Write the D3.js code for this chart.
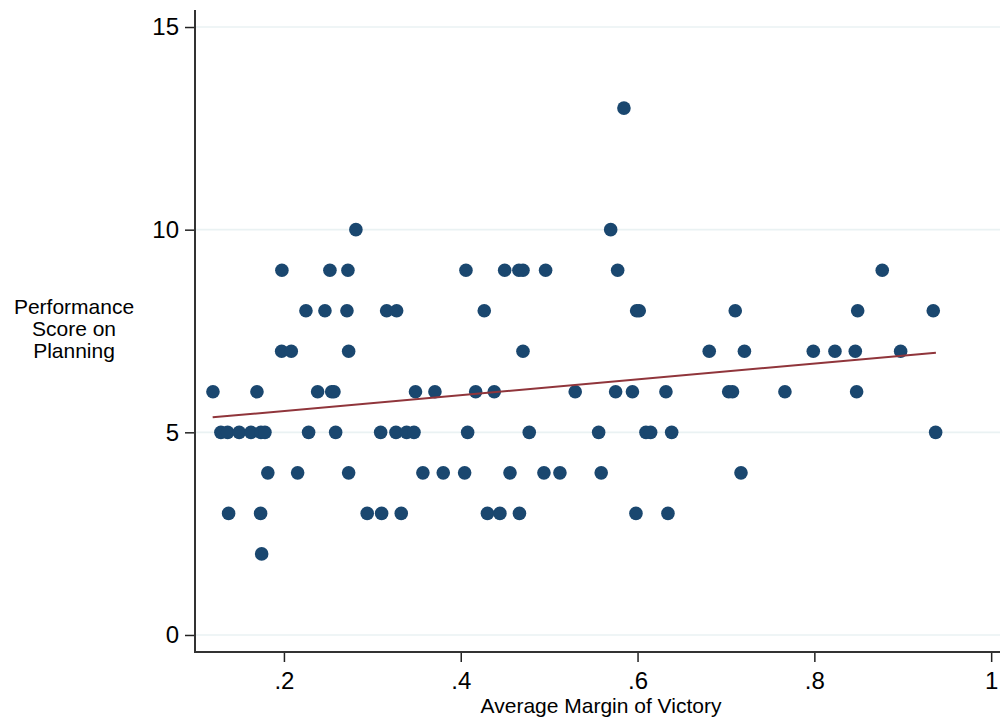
<!DOCTYPE html>
<html>
<head>
<meta charset="utf-8">
<script src="https://cdn.jsdelivr.net/npm/d3@7"></script>
<style>
  body { margin: 0; background: #fff; }
  svg { display: block; font-family: "Liberation Sans", Arial, Helvetica, sans-serif; }
</style>
</head>
<body>
<div id="chart"></div>
<script>
// Performance score vs average margin of victory (scatter + linear fit)

var width = 1000, height = 721;

// data, grouped by score
var score13 = [0.5846];
var score10 = [0.2814, 0.5696];
var score9 = [0.1977, 0.2520, 0.2724, 0.4059, 0.4497, 0.4658, 0.4704, 0.4960, 0.5775, 0.8768];
var score8 = [0.2249, 0.2464, 0.2713, 0.3162, 0.3275, 0.4266, 0.5990, 0.6019, 0.7105, 0.8490, 0.9345];
var score7 = [0.1974, 0.2083, 0.2732, 0.4704, 0.6811, 0.7209, 0.7988, 0.8233, 0.8463, 0.8976];
var score6 = [0.1197, 0.1695, 0.2381, 0.2540, 0.2566, 0.3488, 0.3708, 0.4169, 0.4379, 0.5295,
              0.5752, 0.5942, 0.6321, 0.7031, 0.7074, 0.7667, 0.8478];
var score5 = [0.1287, 0.1363, 0.1494, 0.1627, 0.1740, 0.1785, 0.2279, 0.2585, 0.3094, 0.3267,
              0.3388, 0.3471, 0.4078, 0.4775, 0.5560, 0.6095, 0.6148, 0.6386, 0.9372];
var score4 = [0.1818, 0.2155, 0.2732, 0.3572, 0.3802, 0.4044, 0.4557, 0.4941, 0.5122, 0.5589, 0.7170];
var score3 = [0.1374, 0.1736, 0.2942, 0.3105, 0.3327, 0.4302, 0.4443, 0.4664, 0.5982, 0.6344];
var score2 = [0.1748];

// fitted line end points
var fitX = [0.1194, 0.9375];
var fitY = [5.37, 6.965];

var xTicks = [0.2, 0.4, 0.6, 0.8, 1];
var yTicks = [0, 5, 10, 15];

var groups = [[13, score13], [10, score10], [9, score9], [8, score8], [7, score7],
              [6, score6], [5, score5], [4, score4], [3, score3], [2, score2]];
var points = [];
groups.forEach(function(g) {
    g[1].forEach(function(v) { points.push({x: v, y: g[0]}); });
});

var plotLeft = 195, plotRight = 1000, plotTop = 10, plotBottom = 652;

var x = d3.scaleLinear().domain([0.0994, 1.01]).range([plotLeft, plotRight]);
var y = d3.scaleLinear().domain([-0.42, 15.42]).range([plotBottom, plotTop]);

var svg = d3.select("#chart").append("svg")
    .attr("width", width)
    .attr("height", height);

// grid lines
svg.append("g")
    .selectAll("line")
    .data(yTicks)
    .enter().append("line")
    .attr("x1", plotLeft)
    .attr("x2", plotRight)
    .attr("y1", d => y(d))
    .attr("y2", d => y(d))
    .style("stroke", "#eaf2f3")
    .style("stroke-width", 1.6);

// y axis
var yAxis = svg.append("g")
    .attr("transform", "translate(" + plotLeft + ",0)")
    .call(d3.axisLeft(y).tickValues(yTicks).tickSize(10).tickPadding(6));
yAxis.select(".domain").remove();
yAxis.selectAll(".tick line").style("stroke", "#222").style("stroke-width", 1.5);
yAxis.selectAll(".tick text")
    .style("font-size", "24px")
    .style("fill", "#000")
    .style("font-family", "'Liberation Sans', Arial, sans-serif");

// x axis
var xAxis = svg.append("g")
    .attr("transform", "translate(0," + plotBottom + ")")
    .call(d3.axisBottom(x).tickValues(xTicks).tickSize(10)
        .tickFormat(d => d === 1 ? "1" : d3.format(".1f")(d).replace(/^0/, "")));
xAxis.select(".domain").remove();
xAxis.selectAll(".tick line").style("stroke", "#222").style("stroke-width", 1.5);
xAxis.selectAll(".tick text")
    .attr("y", 37)
    .attr("dy", null)
    .style("font-size", "24px")
    .style("fill", "#000")
    .style("font-family", "'Liberation Sans', Arial, sans-serif");

// axis lines
svg.append("line")
    .attr("x1", plotLeft).attr("x2", plotLeft)
    .attr("y1", plotTop).attr("y2", plotBottom + 1)
    .style("stroke", "#333").style("stroke-width", 2);
svg.append("line")
    .attr("x1", plotLeft - 1).attr("x2", plotRight)
    .attr("y1", plotBottom).attr("y2", plotBottom)
    .style("stroke", "#333").style("stroke-width", 2);

// scatter points
svg.append("g")
    .selectAll("circle")
    .data(points)
    .enter().append("circle")
    .attr("cx", d => x(d.x))
    .attr("cy", d => y(d.y))
    .attr("r", 6.8)
    .style("fill", "#1a476f");

// linear fit
svg.append("line")
    .attr("x1", x(fitX[0])).attr("y1", y(fitY[0]))
    .attr("x2", x(fitX[1])).attr("y2", y(fitY[1]))
    .style("stroke", "#90353b")
    .style("stroke-width", 2);

// axis titles
svg.append("text")
    .attr("x", 601)
    .attr("y", 713)
    .attr("text-anchor", "middle")
    .style("font-size", "21px")
    .text("Average Margin of Victory");

var yTitle = ["Performance", "Score on", "Planning"];
svg.append("text")
    .attr("text-anchor", "middle")
    .style("font-size", "21px")
    .selectAll("tspan")
    .data(yTitle)
    .enter().append("tspan")
    .attr("x", 74)
    .attr("y", (d, i) => 314 + i * 22)
    .text(d => d);
</script>
</body>
</html>
